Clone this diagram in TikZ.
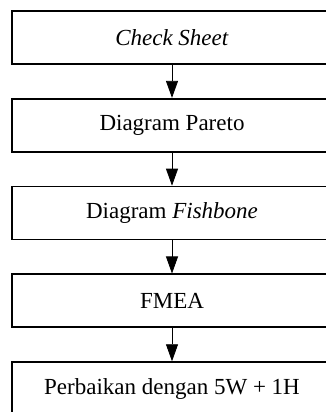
\documentclass[tikz,border=0pt]{standalone}
\usepackage{fontspec}
\setmainfont{Liberation Serif}
\usepackage{tikz}
\usetikzlibrary{arrows.meta,positioning}

\begin{document}
\begin{tikzpicture}[
    box/.style={rectangle, draw=black, line width=1.8pt, minimum width=320pt, minimum height=53pt, inner sep=0pt, font=\fontsize{23}{27}\selectfont},
    arrow/.style={-{Triangle[length=17pt,width=12pt]}, line width=0.8pt, black}
]
\useasboundingbox (0,0) rectangle (326pt,412pt);
\clip (0,0) rectangle (326pt,412pt);

\node[box] (check) at (172pt,374.5pt) {\textit{Check Sheet}};
\node[box, below=33pt of check] (pareto) {Diagram Pareto};
\node[box, below=33pt of pareto] (fishbone) {Diagram \textit{Fishbone}};
\node[box, below=33pt of fishbone] (fmea) {FMEA};
\node[box, below=33pt of fmea] (perbaikan) {Perbaikan dengan 5W + 1H};

\draw[arrow] (check) -- (pareto);
\draw[arrow] (pareto) -- (fishbone);
\draw[arrow] (fishbone) -- (fmea);
\draw[arrow] (fmea) -- (perbaikan);
\end{tikzpicture}
\end{document}
